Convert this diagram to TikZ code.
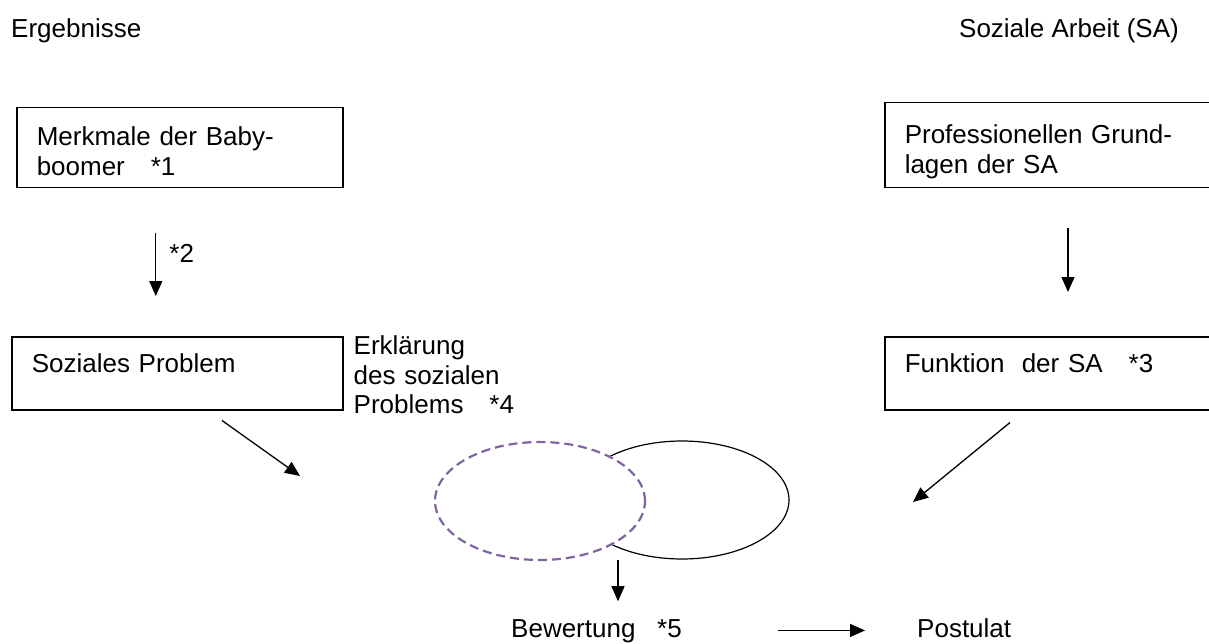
\documentclass[tikz,border=0pt]{standalone}
\usepackage{fontspec}
\setmainfont{Liberation Sans}
\usetikzlibrary{arrows.meta,shapes}
\definecolor{lila}{HTML}{8064A2}
\tikzset{
  txt/.style={inner sep=0pt, font=\fontsize{26}{29.3}\selectfont, text height=18.6pt, text depth=5.5pt},
  box/.style={draw, line width=1.5pt, anchor=north west, inner xsep=20pt, inner ysep=0pt, align=left, font=\fontsize{26}{29.3}\selectfont},
  ell/.style={ellipse, minimum height=118pt, inner sep=0pt},
  arr/.style={line width=1.3pt, -{Triangle[length=15pt,width=13pt]}},
}
\begin{document}
\begin{tikzpicture}[x=1pt,y=-1pt]
	\useasboundingbox (0,0) rectangle (1209,644);
	\clip (0,0) rectangle (1209,644);
	\node[txt, anchor=base west] (ergeb) at (11,38) {Ergebnisse};
	\node[txt, anchor=base east] (sozarb) at (1179,38) {Soziale Arbeit (SA)};
	% linke Seite
	\node[box, text width=286pt, text height=38pt, text depth=42pt] (merk) at (16,107) {Merkmale der Baby-\\boomer~~~*1};
	\node[box, text width=291pt, text height=36pt, text depth=37pt] (soz) at (11,336) {Soziales Problem};
	\node[txt, anchor=north west, text width=200pt, align=left] (erk) at ([xshift=10pt]soz.north east) {Erkl\"arung\\des sozialen\\Problems~~~*4};
	% rechte Seite
	\node[box, text width=300pt, text height=41pt, text depth=44pt] (prof) at (884,102) {Professionellen Grund-\\lagen der SA};
	\node[box, text width=300pt, text height=36pt, text depth=37pt] (funk) at (884,336) {Funktion~~der SA~~~*3};
	% Ellipsen
	\node[ell, draw, line width=1.2pt, minimum width=214pt] (ellsa) at (682,500) {};
	\node[ell, draw=lila, fill=white, line width=2.2pt, dash pattern=on 9pt off 5pt, minimum width=210pt] (ellerk) at (540,501) {};
	\node[txt, anchor=base west] (bew) at (511,637) {Bewertung~~~*5};
	\node[txt, anchor=base west] (post) at (917,637) {Postulat};
	\coordinate (zielL) at (300,476);
	\coordinate (zielR) at (913,502);
	% Pfeile
	\draw[arr, shorten <=45pt, shorten >=40pt] ([xshift=-24pt]merk.south) -- ([xshift=-24pt]merk.south |- soz.north)
		node[txt, pos=0.46, right=13pt] (stern2) {*2};
	\draw[arr, shorten <=40pt, shorten >=44pt] ([xshift=184pt]prof.south west) -- ([xshift=184pt]prof.south west |- funk.north);
	\draw[arr] ([shift={(211,10)}]soz.south west) -- (zielL);
	\draw[arr] ([shift={(126,12)}]funk.south west) -- (zielR);
	\draw[arr, shorten >=17pt] ([xshift=-64pt]ellsa.south) -- ([xshift=-64pt]ellsa.south |- bew.north);
	\draw[arr, shorten <=96pt, shorten >=52pt] (bew.east) -- (post.west);
\end{tikzpicture}
\end{document}
